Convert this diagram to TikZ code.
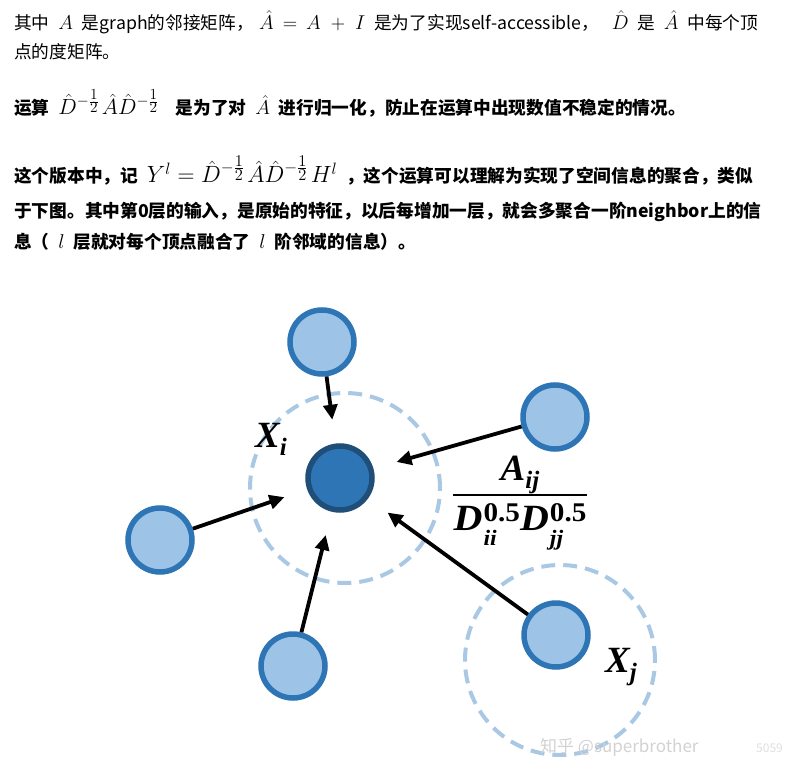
\RequirePackage{fix-cm}
\documentclass[tikz,border=0pt]{standalone}
\usepackage{fontspec}
\usepackage{amsmath}
\usetikzlibrary{arrows.meta}
\newfontfamily\cjk{Noto Sans CJK SC}
\newfontfamily\lab{Liberation Serif}
\definecolor{nodefill}{HTML}{9DC3E6}
\definecolor{nodeline}{HTML}{2E75B6}
\definecolor{hubline}{HTML}{1F4E79}
\definecolor{ringcol}{HTML}{A9C8E4}
\newcommand\mth[2][20]{{\fontsize{#1}{#1}\selectfont$#2$}}
\newcommand\gp{\hspace{0.5em}}
\newcommand\hf{\frac{\scriptstyle 1}{\scriptstyle 2}\,}
\newcommand\lsub[1]{\raisebox{-0.22em}{\fontsize{25}{25}\selectfont #1}}
\newcommand\dsub[1]{\raisebox{-0.42em}{\fontsize{22}{22}\selectfont #1}}
\newcommand\lsup[1]{\raisebox{0.22em}{\fontsize{27}{27}\selectfont\upshape #1}}
\begin{document}
\begin{tikzpicture}[x=1pt,y=-1pt,
  txt/.style={anchor=base west,inner sep=0pt,font=\cjk\fontsize{17.7}{20}\selectfont},
  btxt/.style={txt,font=\cjk\bfseries\fontsize{17.7}{20}\selectfont},
  nb/.style={circle,draw=nodeline,fill=nodefill,line width=5.5pt,minimum size=64pt,inner sep=0pt},
  hub/.style={nb,draw=hubline,fill=nodeline},
  ring/.style={circle,draw=ringcol,line width=4pt,dash pattern=on 14pt off 8pt,minimum size=190pt,inner sep=0pt},
  arr/.style={-{Triangle[length=15pt,width=14pt]},line width=3.8pt,shorten >=24pt},
  sym/.style={inner sep=0pt,font=\lab\bfseries\itshape\fontsize{37}{40}\selectfont}]
\useasboundingbox (0,0) rectangle (798,762);
% text above the figure
\node[txt] (l1) at (14,30) {其中\gp\mth{A}\gp 是graph的邻接矩阵，\hspace{0.3em}\mth{\hat{A}\,=\,A\;+\;I}\gp 是为了实现self-accessible，\hspace{0.7em}\mth{\hat{D}}\gp 是\gp\mth{\hat{A}}\gp 中每个顶};
\node[txt] (l2) at (14,59) {点的度矩阵。};
\node[btxt] (l3) at (14,115) {运算\gp\mth[22]{\hat{D}^{-\hf}\hat{A}\hat{D}^{-\hf}}\hspace{0.8em}是为了对\gp\mth{\hat{A}}\gp 进行归一化，防止在运算中出现数值不稳定的情况。};
\node[btxt] (l4) at (14,183) {这个版本中，记\gp\mth[23.5]{Y^l=\hat{D}^{-\hf}\hat{A}\hat{D}^{-\hf}H^l}\gp ，这个运算可以理解为实现了空间信息的聚合，类似};
\node[btxt] (l5) at (14,218) {于下图。其中第0层的输入，是原始的特征，以后每增加一层，就会多聚合一阶neighbor上的信};
\node[btxt] (l6) at (14,248) {息（\gp\mth{l}\gp 层就对每个顶点融合了\gp\mth{l}\gp 阶邻域的信息）。};
% graph
\node[ring] (ri) at (345,488) {};
\node[ring] (rj) at (560,660) {};
\node[hub] (vi) at (340,478) {};
\node[nb] (up) at (322,342) {};
\node[nb] (rt) at (555,417) {};
\node[nb] (lf) at (160,540) {};
\node[nb] (dn) at (293,666) {};
\node[nb] (vj) at (556,635) {};
\foreach \n in {up,rt,lf,dn,vj}
  \draw[arr] (\n) -- (vi);
\node[sym,anchor=base west] (xi) at (255,447) {X\lsub{i}};
\node[sym,anchor=base west] (xj) at (605,672) {X\lsub{j}};
\node[sym,anchor=base] (aij) at (520,480) {A\lsub{ij}};
\node[sym,anchor=base] (dij) at (520,530) {\scalebox{1.08}[1]{D\kern1pt\rlap{\dsub{ii}}\lsup{0.5}D\kern1pt\rlap{\dsub{jj}}\lsup{0.5}}};
\draw[line width=2pt] ([yshift=9pt]dij.north west) -- ([yshift=9pt]dij.north east);
% watermark
\node[anchor=base west,inner sep=0pt,text=gray!35,font=\cjk\fontsize{17}{20}\selectfont] (wm) at (540,752) {知乎 @superbrother};
\node[anchor=base west,inner sep=0pt,text=gray!25,font=\cjk\fontsize{12}{14}\selectfont] (wm2) at (756,752) {5059};
\end{tikzpicture}
\end{document}
